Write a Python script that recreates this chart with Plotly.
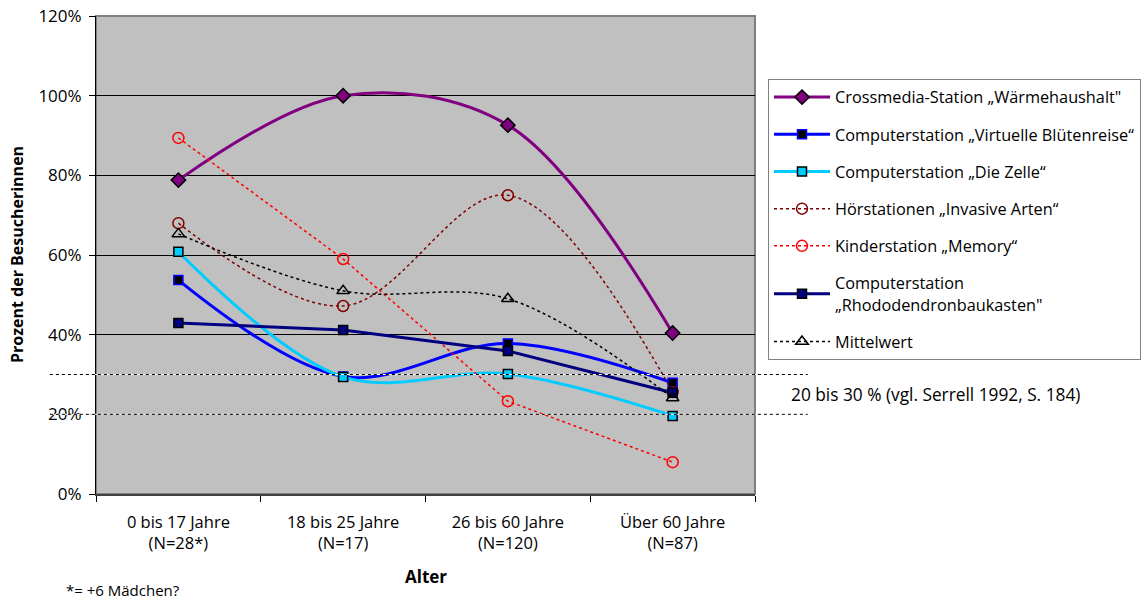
import plotly.graph_objects as go

categories = ["0 bis 17 Jahre<br>(N=28*)", "18 bis 25 Jahre<br>(N=17)",
              "26 bis 60 Jahre<br>(N=120)", "Über 60 Jahre<br>(N=87)"]

crossmedia = [78.8, 100.0, 92.6, 40.4]
bluetenreise = [53.7, 29.5, 37.8, 27.9]
zelle = [60.8, 29.4, 30.1, 19.6]
hoerstationen = [68.0, 47.2, 75.0, 25.6]
memory = [89.4, 59.0, 23.3, 8.0]
rhododendron = [42.9, 41.2, 35.9, 25.4]
mittelwert = [65.3, 51.0, 49.0, 24.1]

ref_low, ref_high = 20, 30

FONT = "Open Sans"

fig = go.Figure()

def add(name, y, color, width, dash, symbol, mcolor, mline, msize, spline=True):
    fig.add_trace(go.Scatter(
        x=categories, y=y, name=name, mode="lines+markers", legendgroup=name,
        line=dict(color=color, width=width, dash=dash,
                  shape="spline" if spline else "linear", smoothing=1.0),
        marker=dict(symbol=symbol, color=mcolor, size=msize,
                    line=dict(color=mline, width=1.5)),
    ))

add("Crossmedia-Station „Wärmehaushalt\"", crossmedia, "#800080", 3, "solid",
    "diamond", "#800080", "black", 11)
add("Computerstation „Virtuelle Blütenreise“", bluetenreise, "#0000FF", 3, "solid",
    "square", "black", "#0000FF", 9)
add("Computerstation „Die Zelle“", zelle, "#00CCFF", 3, "solid",
    "square", "#00CCFF", "black", 9)
add("Hörstationen „Invasive Arten“", hoerstationen, "#800000", 1.5, "dot",
    "circle-open", "#800000", "#800000", 11)
add("Kinderstation „Memory“", memory, "#FF0000", 1.5, "dot",
    "circle-open", "#FF0000", "#FF0000", 11, spline=False)
add("Computerstation<br>„Rhododendronbaukasten\"", rhododendron, "#000080", 3, "solid",
    "square", "#000080", "black", 9, spline=False)
add("Mittelwert", mittelwert, "black", 1.5, "dot",
    "triangle-up-open", "black", "black", 11)

shapes = []
for v in (ref_high, ref_low):
    shapes.append(dict(type="line", xref="paper", yref="y", x0=-0.07, x1=1.08, y0=v, y1=v,
                       line=dict(color="white", width=1), layer="above"))
    shapes.append(dict(type="line", xref="paper", yref="y", x0=-0.07, x1=1.08, y0=v, y1=v,
                       line=dict(color="black", width=1, dash="3px,3px"), layer="above"))
shapes.append(dict(type="rect", xref="paper", yref="paper", x0=0, x1=1, y0=0, y1=1,
                   line=dict(color="#808080", width=2), layer="below"))

fig.update_layout(
    width=1145, height=599,
    margin=dict(l=96, r=390, t=16, b=105, autoexpand=False),
    paper_bgcolor="white", plot_bgcolor="#C0C0C0",
    font=dict(family=FONT, size=16, color="black"),
    shapes=shapes,
    showlegend=True,
    legend=dict(x=(768 - 96) / 659, y=(494 - 79) / 478, xanchor="left", yanchor="top",
                bgcolor="white", bordercolor="#808080", borderwidth=1,
                font=dict(family=FONT, size=16.3),
                itemwidth=56, tracegroupgap=13, traceorder="grouped"),
    xaxis=dict(type="category", range=[-0.5, 3.5], tickson="boundaries",
               ticks="outside", ticklen=6, tickcolor="black",
               showgrid=False, showline=True, linecolor="#404040", linewidth=2,
               tickfont=dict(size=16.5), zeroline=False, ticklabelstandoff=12),
    yaxis=dict(range=[0, 120], dtick=20, ticksuffix="%", ticks="outside", ticklen=6,
               tickcolor="black", showgrid=True, gridcolor="black", gridwidth=1,
               showline=True, linecolor="black", linewidth=1, zeroline=False,
               tickfont=dict(size=17), ticklabelstandoff=4),
    annotations=[
        dict(text="<b>Prozent der Besucherinnen</b>", textangle=-90,
             x=(17 - 96) / 659, y=(494 - 255) / 478, xanchor="center", yanchor="middle",
             xref="paper", yref="paper", showarrow=False, font=dict(size=16)),
        dict(text="<b>Alter</b>", x=0.5, y=(494 - 576) / 478, xref="paper", yref="paper",
             showarrow=False, font=dict(size=17), yanchor="middle"),
        dict(text="*= +6 Mädchen?", x=(64 - 96) / 659, y=(494 - 590) / 478,
             xref="paper", yref="paper",
             showarrow=False, font=dict(size=15), xanchor="left", yanchor="middle"),
        dict(text="20 bis 30 % (vgl. Serrell 1992, S. 184)", x=(789 - 96) / 659, y=25,
             xref="paper", yref="y", showarrow=False, xanchor="left", yanchor="middle",
             font=dict(size=17.3)),
    ],
)

fig.write_html("out.html")
